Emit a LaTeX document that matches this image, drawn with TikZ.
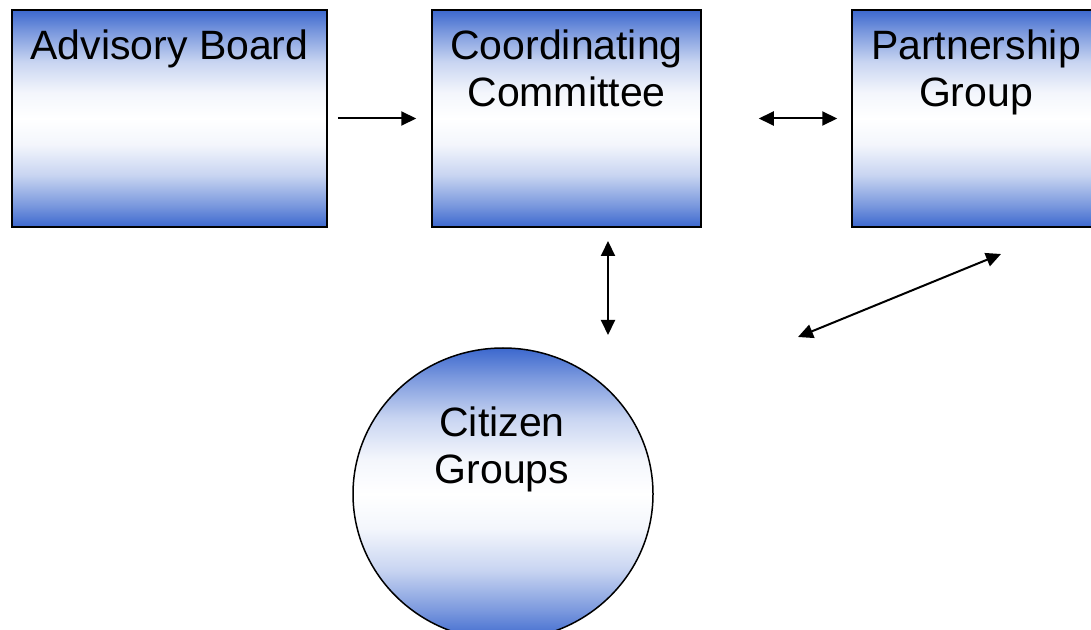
\documentclass[tikz,border=0pt]{standalone}
\usepackage{fontspec}
\setmainfont{Liberation Sans}
\usetikzlibrary{arrows.meta,positioning,shapes.geometric}
\definecolor{orgblue}{RGB}{60,104,206}
% the node spans 25bp..75bp of the shading
\pgfdeclareverticalshading{bluefade}{100bp}{%
  color(0bp)=(orgblue); color(25bp)=(orgblue);
  color(30bp)=(orgblue!68!white); color(37bp)=(orgblue!28!white);
  color(44bp)=(orgblue!6!white); color(50bp)=(white);
  color(56bp)=(orgblue!6!white); color(63bp)=(orgblue!28!white);
  color(70bp)=(orgblue!68!white); color(75bp)=(orgblue);
  color(100bp)=(orgblue)}

\begin{document}
\begin{tikzpicture}[
      x=0.5pt, y=0.5pt,
      every node/.style={font=\fontsize{20.5}{23.5}\selectfont},
      shadebox/.style={
        rectangle, draw, line width=0.75pt, shading=bluefade,
        minimum height=108.5pt
      },
      shadeoval/.style={
        ellipse, draw, line width=0.75pt, shading=bluefade,
        minimum width=150pt, minimum height=146pt
      },
      caption/.style={anchor=north, inner sep=0pt, align=center},
      arr/.style={-{Triangle[length=7.5pt, width=7pt]}, line width=1pt},
      darr/.style={{Triangle[length=7.5pt, width=7pt]}-{Triangle[length=7.5pt, width=7pt]}, line width=1pt}
    ]
    \useasboundingbox (0,0) rectangle (1091,-630);

    % ===== Top row: the three bodies =====
    \node[shadebox, minimum width=157.5pt] (ab) at (169.5,-118.5) {};
    \node[shadebox, minimum width=134.5pt] (cc) at (566.5,-118.5) {};
    \node[shadebox, minimum width=124pt] (pg) at (976,-118.5) {};

    \node[caption] (ab-t) at (169.5,-29) {Advisory Board};
    \node[caption] (cc-t) at (566.5,-29) {Coordinating\\Committee};
    \node[caption] (pg-t) at (976,-29) {Partnership\\Group};

    % ===== Bottom: citizen groups =====
    \node[shadeoval] (cg) at (503,-494) {};
    \node[caption] (cg-t) at (502,-406) {Citizen\\Groups};

    % ===== Arrows =====
    \coordinate (cv-top) at (608,-241);
    \coordinate (cv-bot) at (608,-335);
    \coordinate (dg-a) at (798,-337);
    \coordinate (dg-b) at (1001,-254);

    \draw[arr, shorten <=5pt, shorten >=7.5pt] (ab.east) -- (cc.west);
    \draw[darr, shorten <=28.5pt, shorten >=7pt] (cc.east) -- (pg.west);
    \draw[darr] (cv-top) -- (cv-bot);
    \draw[darr] (dg-a) -- (dg-b);
  \end{tikzpicture}
\end{document}
